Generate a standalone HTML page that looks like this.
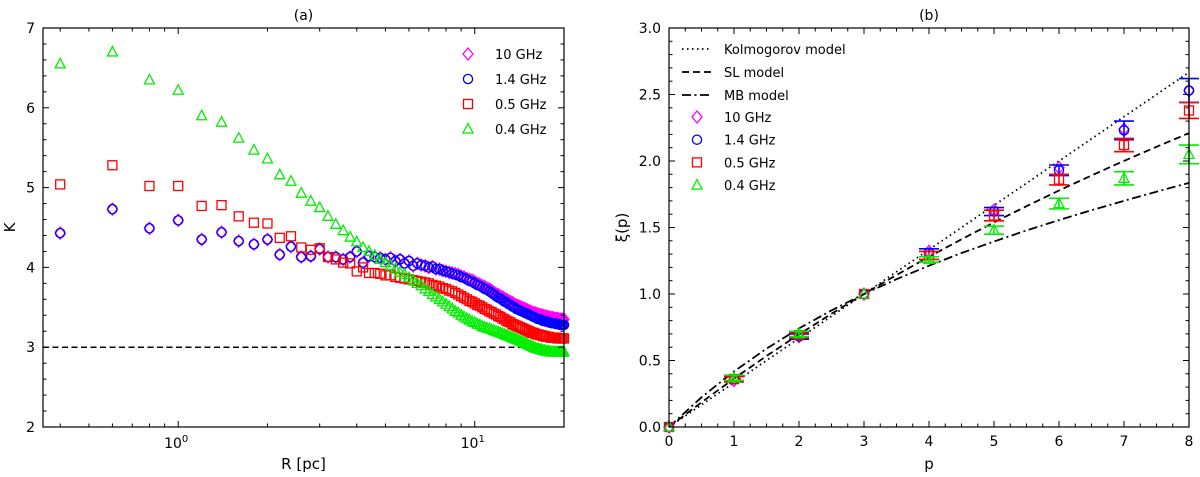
<!DOCTYPE html>
<html><head><meta charset="utf-8"><style>
html,body{margin:0;padding:0;background:#fff}
svg{display:block;font-family:"DejaVu Sans","Liberation Sans",sans-serif}
</style></head><body>
<svg id="fig" width="1200" height="477" viewBox="0 0 1200 477" xmlns="http://www.w3.org/2000/svg">
<g id="pa"></g>
<g id="pb"></g>
</svg>
<script>
// ---------- Panel (a) data ----------
const radiusPc = [0.4,0.6,0.8,1.0,1.2,1.4,1.6,1.8,2.0,2.2,2.4,2.6,2.8,3.0,3.2,3.4,3.6,3.8,4.0,4.2,4.4,4.6,4.8,5.0,5.2,5.4,5.6,5.8,6.0,6.2,6.4,6.6,6.8,7.0,7.2,7.4,7.6,7.8,8.0,8.2,8.4,8.6,8.8,9.0,9.2,9.4,9.6,9.8,10.0,10.2,10.4,10.6,10.8,11.0,11.2,11.4,11.6,11.8,12.0,12.2,12.4,12.6,12.8,13.0,13.2,13.4,13.6,13.8,14.0,14.2,14.4,14.6,14.8,15.0,15.2,15.4,15.6,15.8,16.0,16.2,16.4,16.6,16.8,17.0,17.2,17.4,17.6,17.8,18.0,18.2,18.4,18.6,18.8,19.0,19.2,19.4,19.6,19.8,20.0];
const k10GHz = [4.43,4.73,4.49,4.59,4.35,4.44,4.33,4.29,4.35,4.16,
4.26,4.13,4.14,4.23,4.13,4.13,4.10,4.13,4.20,4.06,
4.14,4.13,4.12,4.10,4.12,4.08,4.10,4.05,4.08,4.02,
4.05,4.03,4.02,4.00,4.01,3.98,3.98,3.96,3.95,3.94,
3.93,3.92,3.91,3.89,3.88,3.86,3.85,3.84,3.82,3.80,
3.79,3.77,3.76,3.74,3.73,3.71,3.69,3.67,3.66,3.64,
3.63,3.61,3.60,3.58,3.57,3.56,3.54,3.53,3.52,3.51,
3.50,3.49,3.48,3.47,3.46,3.45,3.44,3.43,3.43,3.42,
3.41,3.41,3.40,3.40,3.39,3.39,3.38,3.38,3.37,3.37,
3.37,3.36,3.36,3.36,3.35,3.35,3.35,3.35,3.35];
const k1p4GHz = [4.43,4.73,4.49,4.59,4.35,4.44,4.33,4.29,4.35,4.16,
4.26,4.13,4.14,4.23,4.13,4.13,4.10,4.13,4.20,4.06,
4.14,4.13,4.12,4.10,4.12,4.08,4.10,4.05,4.08,4.02,
4.05,4.03,4.02,4.00,4.01,3.98,3.98,3.96,3.95,3.94,
3.92,3.91,3.90,3.88,3.87,3.85,3.83,3.82,3.80,3.78,
3.77,3.75,3.73,3.72,3.70,3.68,3.66,3.64,3.62,3.61,
3.59,3.57,3.56,3.54,3.53,3.51,3.50,3.48,3.47,3.46,
3.45,3.44,3.43,3.42,3.41,3.40,3.39,3.38,3.37,3.36,
3.35,3.35,3.34,3.33,3.33,3.32,3.32,3.31,3.31,3.30,
3.30,3.30,3.29,3.29,3.29,3.28,3.28,3.28,3.28];
const k0p5GHz = [5.04,5.28,5.02,5.02,4.77,4.78,4.64,4.56,4.55,4.37,
4.39,4.25,4.22,4.24,4.13,4.10,4.06,4.05,3.95,4.00,
3.93,3.93,3.92,3.90,3.90,3.88,3.87,3.86,3.85,3.84,
3.83,3.82,3.81,3.80,3.78,3.77,3.76,3.74,3.73,3.71,
3.70,3.68,3.66,3.64,3.62,3.60,3.58,3.57,3.55,3.53,
3.52,3.50,3.48,3.47,3.45,3.44,3.42,3.41,3.39,3.38,
3.36,3.35,3.33,3.32,3.31,3.29,3.28,3.27,3.26,3.25,
3.24,3.23,3.22,3.21,3.20,3.19,3.18,3.18,3.17,3.16,
3.16,3.15,3.15,3.14,3.14,3.13,3.13,3.13,3.12,3.12,
3.12,3.12,3.12,3.11,3.11,3.11,3.11,3.11,3.11];
const k0p4GHz = [6.55,6.70,6.35,6.22,5.90,5.82,5.62,5.47,5.36,5.16,
5.08,4.93,4.83,4.75,4.64,4.54,4.46,4.38,4.32,4.25,
4.20,4.15,4.10,4.06,4.02,3.98,3.94,3.91,3.87,3.84,
3.80,3.77,3.73,3.70,3.66,3.63,3.60,3.57,3.54,3.51,
3.48,3.45,3.43,3.40,3.38,3.36,3.34,3.32,3.31,3.29,
3.28,3.26,3.25,3.24,3.23,3.22,3.21,3.20,3.19,3.18,
3.17,3.16,3.15,3.14,3.13,3.12,3.11,3.10,3.09,3.08,
3.07,3.06,3.05,3.04,3.03,3.02,3.01,3.00,2.99,2.98,
2.98,2.97,2.97,2.96,2.96,2.95,2.95,2.95,2.94,2.94,
2.94,2.94,2.94,2.94,2.94,2.94,2.94,2.94,2.94];
const aYTicks = [2,3,4,5,6,7];
const aRefLine = 3;

// ---------- Panel (b) data ----------
const pOrders = [0,1,2,3,4,5,6,7,8];
const xi10GHz = [0,0.35,0.68,1.0,1.32,1.63,1.95,2.24,2.53];
const xi1p4GHz = [0,0.36,0.68,1.0,1.31,1.62,1.93,2.23,2.53];
const err1p4GHz = [0,0.02,0.02,0,0.03,0.03,0.04,0.07,0.09];
const xi0p5GHz = [0,0.36,0.69,1.0,1.29,1.59,1.86,2.12,2.38];
const err0p5GHz = [0,0.02,0.02,0,0.03,0.04,0.04,0.05,0.06];
const xi0p4GHz = [0,0.37,0.70,1.0,1.26,1.48,1.68,1.87,2.05];
const err0p4GHz = [0,0.02,0.02,0,0.02,0.03,0.04,0.05,0.07];
const modelP = [0,0.5,1,1.5,2,2.5,3,3.5,4,4.5,5,5.5,6,6.5,7,7.5,8];
const kolmogorovXi = [0,0.167,0.333,0.5,0.667,0.833,1.0,1.167,1.333,1.5,1.667,1.833,2.0,2.167,2.333,2.5,2.667];
const slXi = [0,0.186,0.364,0.534,0.696,0.851,1.0,1.143,1.280,1.411,1.538,1.660,1.778,1.891,2.001,2.107,2.210];
const mbXi = [0,0.223,0.418,0.589,0.741,0.877,1.0,1.111,1.213,1.308,1.395,1.478,1.556,1.630,1.701,1.769,1.835];
const bYTicks = [0,0.5,1.0,1.5,2.0,2.5,3.0];
const bXTicks = [0,1,2,3,4,5,6,7,8];

const NS = "http://www.w3.org/2000/svg";
function mk(parent, tag, attrs, text){
  const e = document.createElementNS(NS, tag);
  for (const k in attrs) e.setAttribute(k, attrs[k]);
  if (text !== undefined) e.textContent = text;
  parent.appendChild(e);
  return e;
}
const GREEN = "#00ee00", RED = "#ff0000", BLUE = "#0000ff", MAG = "#ff00ff";
function marker(g, shape, cx, cy, color){
  let e;
  if (shape === "diamond") e = mk(g, "polygon", {points:`${cx},${cy-6} ${cx+5},${cy} ${cx},${cy+6} ${cx-5},${cy}`, fill:"none", stroke:color, "stroke-width":1.3});
  else if (shape === "circle") e = mk(g, "circle", {cx:cx, cy:cy, r:4.6, fill:"none", stroke:color, "stroke-width":1.3});
  else if (shape === "square") e = mk(g, "rect", {x:cx-4.5, y:cy-4.5, width:9, height:9, fill:"none", stroke:color, "stroke-width":1.3});
  else e = mk(g, "polygon", {points:`${cx},${cy-5.5} ${cx+5},${cy+4} ${cx-5},${cy+4}`, fill:"none", stroke:color, "stroke-width":1.3});
  return e;
}

// ================= Panel A =================
(function(){
  const g = document.getElementById("pa");
  const L = 43, R = 564, T = 28, B = 427;
  const xmin = Math.log10(0.35), xmax = Math.log10(20);
  const xS = v => L + (Math.log10(v) - xmin) / (xmax - xmin) * (R - L);
  const yS = v => B - (v - 2) / 5 * (B - T);

  const title = mk(g, "text", {x:(L+R)/2, y:20, "text-anchor":"middle", "font-size":14}, "(a)");
  
  

  const ref = mk(g, "line", {x1:L, x2:R, y1:yS(aRefLine), y2:yS(aRefLine), stroke:"#000", "stroke-width":1.5, "stroke-dasharray":"6,3.5"});
  
  

  const series = [
    {name:"10-ghz", data:k10GHz, shape:"diamond", color:MAG},
    {name:"1p4-ghz", data:k1p4GHz, shape:"circle", color:BLUE},
    {name:"0p5-ghz", data:k0p5GHz, shape:"square", color:RED},
    {name:"0p4-ghz", data:k0p4GHz, shape:"triangle", color:GREEN}
  ];
  series.forEach(s => {
    const sg = mk(g, "g", {});
    
    
    radiusPc.forEach((r, i) => {
      const m = marker(sg, s.shape, xS(r), yS(s.data[i]), s.color);
      
      
    });
  });

  const frame = mk(g, "rect", {x:L, y:T, width:R-L, height:B-T, fill:"none", stroke:"#000", "stroke-width":1.2});
  
  

  // y ticks
  for (let v = 2; v <= 7.001; v += 0.2) {
    const major = Math.abs(v - Math.round(v)) < 1e-6;
    const len = major ? 6 : 3.5, y = yS(v);
    mk(g, "line", {x1:L, x2:L+len, y1:y, y2:y, stroke:"#000", "stroke-width":1});
    mk(g, "line", {x1:R, x2:R-len, y1:y, y2:y, stroke:"#000", "stroke-width":1});
  }
  aYTicks.forEach(v => {
    const t = mk(g, "text", {x:L-8, y:yS(v)+5, "text-anchor":"end", "font-size":14}, String(v));
    
    
  });
  // x ticks (log)
  [0.4,0.5,0.6,0.7,0.8,0.9,1,2,3,4,5,6,7,8,9,10,20].forEach(v => {
    if (v > 20) return;
    const major = (v === 1 || v === 10);
    const len = major ? 6 : 3.5, x = xS(v);
    mk(g, "line", {x1:x, x2:x, y1:B, y2:B-len, stroke:"#000", "stroke-width":1});
    mk(g, "line", {x1:x, x2:x, y1:T, y2:T+len, stroke:"#000", "stroke-width":1});
  });
  [[1,"0"],[10,"1"]].forEach(([v, e]) => {
    const t = mk(g, "text", {x:xS(v)-2, y:B+21, "text-anchor":"middle", "font-size":14}, "10");
    mk(t, "tspan", {dy:-6, "font-size":10}, e);
    
    
  });
  const xl = mk(g, "text", {x:(L+R)/2, y:469, "text-anchor":"middle", "font-size":15}, "R [pc]");
  
  
  const yl = mk(g, "text", {x:0, y:0, "text-anchor":"middle", "font-size":15, transform:`translate(15,${(T+B)/2}) rotate(-90)`}, "K");
  
  

  // legend
  const lg = mk(g, "g", {});
  
  
  series.forEach((s, i) => {
    const y = 54 + i * 25;
    const eg = mk(lg, "g", {});
    
    
    marker(eg, s.shape, 468, y, s.color);
    mk(eg, "text", {x:495, y:y+5, "font-size":13}, ["10 GHz","1.4 GHz","0.5 GHz","0.4 GHz"][i]);
  });
})();

// ================= Panel B =================
(function(){
  const g = document.getElementById("pb");
  const L = 669, R = 1189, T = 28, B = 427;
  const xS = v => L + v / 8 * (R - L);
  const yS = v => B - v / 3 * (B - T);

  const title = mk(g, "text", {x:(L+R)/2, y:20, "text-anchor":"middle", "font-size":14}, "(b)");
  
  

  const models = [
    {name:"kolmogorov-model-line", data:kolmogorovXi, dash:"1.5,3.5", label:"Kolmogorov model"},
    {name:"sl-model-line", data:slXi, dash:"7,4", label:"SL model"},
    {name:"mb-model-line", data:mbXi, dash:"9,3.5,2,3.5", label:"MB model"}
  ];
  models.forEach(m => {
    const pts = modelP.map((p, i) => xS(p).toFixed(1) + "," + yS(m.data[i]).toFixed(1)).join(" ");
    const pl = mk(g, "polyline", {points:pts, fill:"none", stroke:"#000", "stroke-width":1.8, "stroke-dasharray":m.dash});
    
    
  });

  const series = [
    {name:"10-ghz", data:xi10GHz, err:null, shape:"diamond", color:MAG},
    {name:"1p4-ghz", data:xi1p4GHz, err:err1p4GHz, shape:"circle", color:BLUE},
    {name:"0p5-ghz", data:xi0p5GHz, err:err0p5GHz, shape:"square", color:RED},
    {name:"0p4-ghz", data:xi0p4GHz, err:err0p4GHz, shape:"triangle", color:GREEN}
  ];
  series.forEach(s => {
    const sg = mk(g, "g", {});
    
    
    pOrders.forEach((p, i) => {
      const x = xS(p), y = yS(s.data[i]);
      if (s.err && s.err[i] > 0) {
        const y1 = yS(s.data[i] + s.err[i]), y2 = yS(s.data[i] - s.err[i]);
        const eb = mk(sg, "g", {stroke:s.color, "stroke-width":1.6});
        
        
        mk(eb, "line", {x1:x, x2:x, y1:y1, y2:y2});
        mk(eb, "line", {x1:x-10, x2:x+10, y1:y1, y2:y1});
        mk(eb, "line", {x1:x-10, x2:x+10, y1:y2, y2:y2});
      }
      const m = marker(sg, s.shape, x, y, s.color);
      
      
    });
  });

  const frame = mk(g, "rect", {x:L, y:T, width:R-L, height:B-T, fill:"none", stroke:"#000", "stroke-width":1.2});
  
  

  for (let v = 0; v <= 3.001; v += 0.1) {
    const major = Math.abs(v * 2 - Math.round(v * 2)) < 1e-6;
    const len = major ? 6 : 3.5, y = yS(v);
    mk(g, "line", {x1:L, x2:L+len, y1:y, y2:y, stroke:"#000", "stroke-width":1});
    mk(g, "line", {x1:R, x2:R-len, y1:y, y2:y, stroke:"#000", "stroke-width":1});
  }
  for (let v = 0; v <= 8.001; v += 0.25) {
    const major = Math.abs(v - Math.round(v)) < 1e-6;
    const len = major ? 6 : 3.5, x = xS(v);
    mk(g, "line", {x1:x, x2:x, y1:B, y2:B-len, stroke:"#000", "stroke-width":1});
    mk(g, "line", {x1:x, x2:x, y1:T, y2:T+len, stroke:"#000", "stroke-width":1});
  }
  bYTicks.forEach(v => {
    const t = mk(g, "text", {x:L-8, y:yS(v)+5, "text-anchor":"end", "font-size":14}, v.toFixed(1));
    
    
  });
  bXTicks.forEach(v => {
    const t = mk(g, "text", {x:xS(v), y:B+19, "text-anchor":"middle", "font-size":14}, String(v));
    
    
  });
  const xl = mk(g, "text", {x:(L+R)/2, y:469, "text-anchor":"middle", "font-size":15}, "p");
  
  
  const yl = mk(g, "text", {x:0, y:0, "text-anchor":"middle", "font-size":15, transform:`translate(627,${(T+B)/2}) rotate(-90)`}, "ξ(p)");
  
  

  const lg = mk(g, "g", {});
  
  
  models.forEach((m, i) => {
    const y = 49 + i * 23;
    const eg = mk(lg, "g", {});
    
    
    mk(eg, "line", {x1:682, x2:712, y1:y, y2:y, stroke:"#000", "stroke-width":1.8, "stroke-dasharray":m.dash});
    mk(eg, "text", {x:724, y:y+5, "font-size":13}, m.label);
  });
  series.forEach((s, i) => {
    const y = 117 + i * 22.7;
    const eg = mk(lg, "g", {});
    
    
    marker(eg, s.shape, 697, y, s.color);
    mk(eg, "text", {x:724, y:y+5, "font-size":13}, ["10 GHz","1.4 GHz","0.5 GHz","0.4 GHz"][i]);
  });
})();
</script>
</body></html>
